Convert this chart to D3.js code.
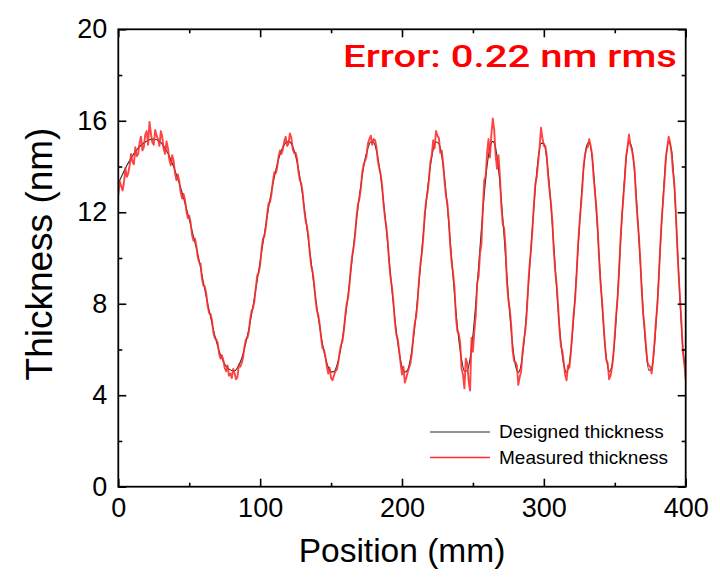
<!DOCTYPE html>
<html>
<head>
<meta charset="utf-8">
<script src="https://cdn.jsdelivr.net/npm/d3@7"></script>
<style>
  html, body { margin: 0; padding: 0; background: #ffffff; }
  svg { display: block; }
</style>
</head>
<body>
<svg id="chart" width="720" height="577"></svg>
<script>
// Sampling steps along the substrate (mm)
const designedStep = 2;
const measuredStep = 1;

// Designed thickness profile (nm), one value every 2 mm from 0 to 400 mm
const designed = [
  13.25,13.53,13.79,14.04,14.26,14.47,14.64,14.80,14.93,15.04,15.11,15.17,15.20,
  15.19,15.14,15.04,14.89,14.69,14.45,14.15,13.82,13.45,13.06,12.63,12.17,11.69,11.19,10.69,10.18,
  9.57,8.92,8.31,7.72,7.15,6.62,6.16,5.77,5.48,5.26,5.15,5.08,
  5.07,5.20,5.45,5.82,6.32,6.89,7.55,8.27,9.05,9.85,
  10.66,11.45,12.22,12.93,13.55,14.09,14.52,14.84,15.03,15.10,
  15.00,14.69,14.20,13.53,12.72,11.80,10.81,
  9.80,8.78,7.83,6.99,6.22,5.64,5.23,5.02,
  5.03,5.28,5.77,6.48,7.37,8.38,9.49,
  10.61,11.72,12.73,13.62,14.33,14.82,15.07,
  15.05,14.70,14.01,13.04,11.86,10.56,
  9.21,7.92,6.79,5.88,5.25,5.01,
  5.11,5.61,6.45,7.59,8.92,
  10.34,11.73,13.00,14.01,14.74,15.07,
  15.00,14.46,13.50,12.23,10.75,
  9.19,7.70,6.45,5.57,5.05,
  5.07,5.61,6.62,8.01,9.63,
  11.29,12.80,14.04,14.83,15.10,
  14.80,13.92,12.58,10.93,
  9.17,7.53,6.18,5.30,5.00,
  5.34,6.31,7.80,9.59,
  11.43,13.06,14.34,15.01,
  15.01,14.34,13.10,11.43,
  9.59,7.80,6.31,5.34,5.00,
  5.41,6.57,8.30,
  10.30,12.27,13.88,14.87,
  15.07,14.42,13.02,11.10,
  9.00,7.08,5.68,5.03,
  5.28,6.48,8.38,
  10.61,12.73,14.33,15.07,
  14.84,13.72,11.89,
  9.78,7.68,6.03,5.09,
  5.14,6.18,8.04,
  10.34,12.58,14.29,15.06,
  14.72,13.13,10.71,
  8.12,6.05,5.05
];

// Measured thickness profile (nm), one value every 1 mm from 0 to 400 mm (ten per row)
const measured = [
  12.75,13.35,13.15,12.95,13.30,13.95,13.55,13.70,14.05,14.55,
  14.20,14.10,14.85,14.45,14.55,15.05,15.30,14.70,14.85,15.40,
  15.55,14.95,15.95,15.45,15.05,14.95,15.60,15.35,15.20,14.90,
  15.55,15.30,14.75,14.55,15.10,14.80,14.30,14.05,14.50,14.25,
  13.70,13.40,13.65,13.35,12.85,12.60,12.80,12.55,12.05,11.75,
  11.85,11.55,11.00,10.75,10.85,10.55,10.05,9.80,9.75,9.10,
  8.80,8.75,8.45,7.90,7.60,7.55,7.30,6.75,6.50,6.45,
  6.30,5.85,5.60,5.75,5.55,5.20,5.05,5.30,4.85,4.95,
  4.75,5.15,4.95,4.70,4.80,5.35,5.25,5.40,5.65,6.15,
  6.45,6.50,6.75,7.35,7.70,7.80,8.15,8.75,9.25,9.35,
  9.70,10.40,10.85,10.95,11.35,11.95,12.40,12.45,12.80,13.35,
  13.75,13.70,13.95,14.45,14.70,14.55,14.75,15.10,15.30,14.90,
  15.00,15.45,15.25,14.75,14.60,14.60,14.35,13.75,13.40,13.25,
  12.85,12.15,11.65,11.40,10.95,10.20,9.65,9.40,8.90,8.20,
  7.70,7.50,7.10,6.50,6.05,6.00,5.70,5.25,4.95,5.20,
  4.75,4.65,4.85,5.05,5.10,5.40,5.85,6.20,6.35,6.80,
  7.50,8.00,8.25,8.85,9.60,10.15,10.50,11.05,11.85,12.35,
  12.60,13.05,13.75,14.10,14.25,14.45,15.00,15.20,15.35,14.95,
  15.20,15.15,14.85,14.25,13.90,13.65,13.15,12.35,11.75,11.35,
  10.70,9.75,9.10,8.70,8.05,7.20,6.65,6.45,5.95,5.40,
  4.90,5.25,4.55,4.75,5.00,5.20,5.40,5.85,6.60,7.15,
  7.45,8.10,9.05,9.75,10.20,10.90,11.90,12.50,12.85,13.40,
  14.20,14.50,15.15,14.80,15.55,15.35,15.25,14.60,14.70,14.15,
  13.35,12.70,12.40,11.65,10.55,9.80,9.35,8.70,7.45,6.80,
  6.70,6.30,5.15,4.90,4.30,5.60,5.40,4.60,4.20,6.50,
  5.90,6.80,7.50,8.90,9.20,10.20,10.60,12.20,13.40,13.60,
  14.60,15.20,14.40,15.40,16.10,15.60,14.50,13.90,14.50,13.60,
  12.30,11.50,11.30,10.45,8.90,8.15,7.75,7.05,5.95,5.50,
  5.45,5.30,4.45,4.80,5.05,5.90,6.45,6.85,7.65,8.85,
  9.75,10.40,11.30,12.35,13.25,13.55,14.20,14.85,15.70,15.25,
  14.90,14.90,14.50,13.60,12.95,12.40,11.60,10.35,9.45,8.85,
  7.95,6.90,6.15,5.95,5.45,4.90,4.65,5.30,5.20,5.85,
  6.70,7.55,8.15,9.20,10.45,11.40,12.15,12.95,14.00,14.50,
  14.80,14.85,15.20,14.90,14.55,13.60,12.90,12.20,11.25,9.90,
  8.85,8.15,7.20,6.25,5.55,5.40,4.70,4.85,5.20,5.75,
  6.60,7.55,8.25,9.35,10.75,11.80,12.60,13.40,14.45,14.85,
  15.40,14.95,14.75,14.40,13.85,12.65,11.75,10.95,9.90,8.60,
  7.55,6.95,6.15,5.45,5.30,5.25,4.95,5.55,6.30,7.25,
  7.90,9.05,10.45,11.60,12.45,13.30,14.40,14.85,15.30,15.05,
  14.60,13.80,13.25,12.05,10.55,9.30,8.25,7.20,5.90,5.40,
  4.70
];

// Axis ticks
const xMajorTicks = [0, 100, 200, 300, 400];
const xMinorTicks = [50, 150, 250, 350];
const yMajorTicks = [0, 4, 8, 12, 16, 20];
const yMinorTicks = [2, 6, 10, 14, 18];

// Text
const xTitle = "Position (mm)";
const yTitle = "Thickness (nm)";
const errorNote = "Error: 0.22 nm rms";
const seriesNames = ["Designed thickness", "Measured thickness"];
const seriesColors = ["#2b2b2b", "#ff2a2a"];

// Plot frame
const W = 720, H = 577;
const margin = { left: 118.3, top: 29.3, right: W - 685.7, bottom: H - 486.7 };
const innerW = W - margin.left - margin.right;
const innerH = H - margin.top - margin.bottom;

const svg = d3.select("#chart");
const g = svg.append("g").attr("transform", `translate(${margin.left},${margin.top})`);

const x = d3.scaleLinear().domain([0, 400]).range([0, innerW]);
const y = d3.scaleLinear().domain([0, 20]).range([innerH, 0]);

const sansFont = "'Liberation Sans', Arial, sans-serif";

svg.append("defs").append("clipPath").attr("id", "plotClip")
  .append("rect").attr("x", 0).attr("y", 0).attr("width", innerW).attr("height", innerH);

// Series lines
const toPoints = (arr, step) => arr.map((v, i) => [i * step, v]);
const line = d3.line().x(d => x(d[0])).y(d => y(d[1]));

const plot = g.append("g").attr("clip-path", "url(#plotClip)");
plot.append("path")
  .datum(toPoints(designed, designedStep))
  .attr("fill", "none")
  .attr("stroke", seriesColors[0])
  .attr("stroke-width", 1.1)
  .attr("d", line.curve(d3.curveMonotoneX));
plot.append("path")
  .datum(toPoints(measured, measuredStep))
  .attr("fill", "none")
  .attr("stroke", seriesColors[1])
  .attr("stroke-opacity", 0.88)
  .attr("stroke-width", 1.9)
  .attr("stroke-linejoin", "round")
  .attr("d", line.curve(d3.curveLinear));

// Axes with inward ticks on all four sides
function styleAxis(sel) {
  sel.select(".domain").remove();
  sel.selectAll(".tick line").attr("stroke", "#000").attr("stroke-width", 1.6);
  sel.selectAll(".tick text")
    .attr("fill", "#000")
    .style("font-family", sansFont)
    .style("font-size", "27px");
}

g.append("g").attr("transform", `translate(0,${innerH})`)
  .call(d3.axisBottom(x).tickValues(xMajorTicks).tickSizeInner(-8).tickSizeOuter(0).tickPadding(11).tickFormat(d3.format("d")))
  .call(styleAxis);
g.append("g").attr("transform", `translate(0,${innerH})`)
  .call(d3.axisBottom(x).tickValues(xMinorTicks).tickSizeInner(-4).tickSizeOuter(0).tickFormat(""))
  .call(styleAxis);
g.append("g")
  .call(d3.axisTop(x).tickValues(xMajorTicks).tickSizeInner(-8).tickSizeOuter(0).tickFormat(""))
  .call(styleAxis);
g.append("g")
  .call(d3.axisTop(x).tickValues(xMinorTicks).tickSizeInner(-4).tickSizeOuter(0).tickFormat(""))
  .call(styleAxis);

g.append("g")
  .call(d3.axisLeft(y).tickValues(yMajorTicks).tickSizeInner(-8).tickSizeOuter(0).tickPadding(11).tickFormat(d3.format("d")))
  .call(styleAxis);
g.append("g")
  .call(d3.axisLeft(y).tickValues(yMinorTicks).tickSizeInner(-4).tickSizeOuter(0).tickFormat(""))
  .call(styleAxis);
g.append("g").attr("transform", `translate(${innerW},0)`)
  .call(d3.axisRight(y).tickValues(yMajorTicks).tickSizeInner(-8).tickSizeOuter(0).tickFormat(""))
  .call(styleAxis);
g.append("g").attr("transform", `translate(${innerW},0)`)
  .call(d3.axisRight(y).tickValues(yMinorTicks).tickSizeInner(-4).tickSizeOuter(0).tickFormat(""))
  .call(styleAxis);

// Frame
g.append("rect")
  .attr("x", 0).attr("y", 0).attr("width", innerW).attr("height", innerH)
  .attr("fill", "none").attr("stroke", "#000").attr("stroke-width", 1.8);

// Axis titles
svg.append("text")
  .attr("x", margin.left + innerW / 2).attr("y", 562)
  .attr("text-anchor", "middle")
  .style("font-family", sansFont).style("font-size", "33.5px")
  .text(xTitle);
svg.append("text")
  .attr("transform", "translate(52,254) rotate(-90)")
  .attr("text-anchor", "middle")
  .style("font-family", sansFont).style("font-size", "37px")
  .text(yTitle);

// Error annotation
svg.append("text")
  .attr("x", 343).attr("y", 67)
  .attr("fill", "#ff0000")
  .attr("textLength", 334).attr("lengthAdjust", "spacingAndGlyphs")
  .style("font-family", "Roboto, 'Noto Sans', sans-serif")
  .style("font-weight", 500)
  .style("font-size", "32px")
  .text(errorNote);

// Legend
const legend = svg.append("g").attr("transform", "translate(430,432)");
seriesNames.forEach((name, i) => {
  const row = legend.append("g").attr("transform", `translate(0,${i * 25.5})`);
  row.append("line").attr("x1", 0).attr("x2", 60).attr("y1", 0).attr("y2", 0)
    .attr("stroke", seriesColors[i]).attr("stroke-width", i ? 1.4 : 1.1);
  row.append("text").attr("x", 69).attr("y", 6)
    .style("font-family", sansFont).style("font-size", "19px")
    .text(name);
});
</script>
</body>
</html>
